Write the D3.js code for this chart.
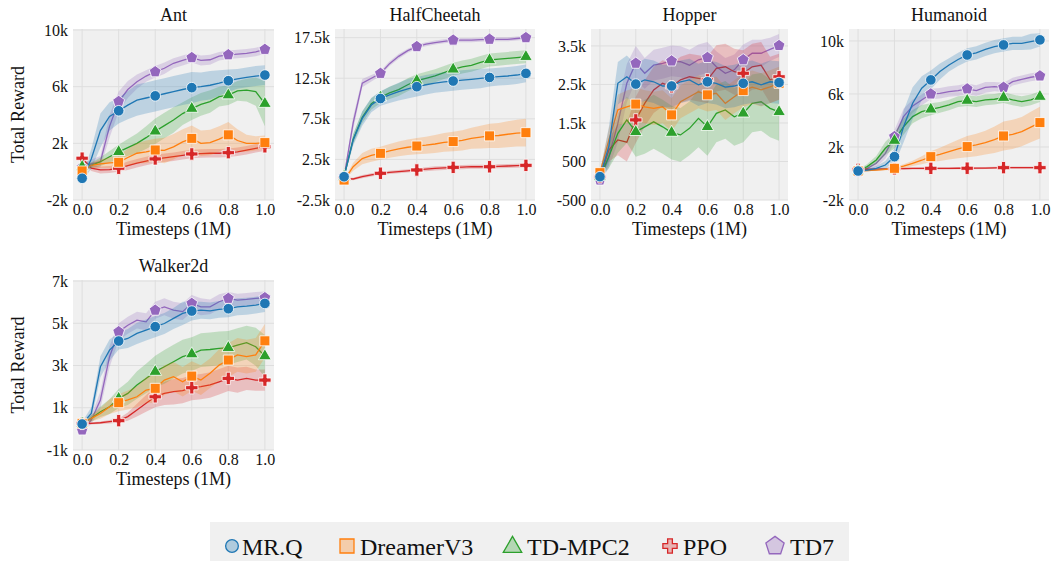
<!DOCTYPE html>
<html><head><meta charset="utf-8">
<script src="https://cdn.jsdelivr.net/npm/d3@7"></script>
<style>
body{margin:0;background:#fff}
svg{display:block}
text{font-family:"Liberation Serif","Times New Roman",serif;fill:#111}
</style>
</head><body><svg id="c" width="1052" height="561"></svg>
<script>
// ---------------- DATA ----------------
const methods = ["MR.Q","DreamerV3","TD-MPC2","PPO","TD7"];
const colors  = ["#1f77b4","#ff7f0e","#2ca02c","#d62728","#9467bd"];
const envNames = ["Ant","HalfCheetah","Hopper","Humanoid","Walker2d"];
const steps = [0,0.05,0.1,0.15,0.2,0.25,0.3,0.35,0.4,0.45,0.5,0.55,0.6,0.65,0.7,0.75,0.8,0.85,0.9,0.95,1.0];
const xTicks = [0,0.2,0.4,0.6,0.8,1.0];
const xTickLabels = ["0.0","0.2","0.4","0.6","0.8","1.0"];

const antTicks = [-2000,2000,6000,10000];
const antTickLabels = ["-2k","2k","6k","10k"];
const hcTicks = [-2500,2500,7500,12500,17500];
const hcTickLabels = ["-2.5k","2.5k","7.5k","12.5k","17.5k"];
const hopTicks = [-500,500,1500,2500,3500];
const hopTickLabels = ["-500","500","1.5k","2.5k","3.5k"];
const humTicks = [-2000,2000,6000,10000];
const humTickLabels = ["-2k","2k","6k","10k"];
const walTicks = [-1000,1000,3000,5000,7000];
const walTickLabels = ["-1k","1k","3k","5k","7k"];

// Ant
const antMRQ     = [-470,900,2900,3900,4300,4700,5050,5200,5350,5500,5650,5800,5930,6000,6100,6250,6420,6550,6660,6750,6820];
const antMRQsd   = [200,700,1200,1000,900,1000,1100,1100,1100,1100,1100,1100,1100,1000,1000,900,800,700,700,700,700];
const antDre     = [50,450,550,620,660,1000,1300,1400,1530,1500,1750,2100,2350,2000,2050,2300,2600,2200,2000,2000,2050];
const antDresd   = [100,200,300,400,500,600,700,800,800,900,900,900,900,900,900,900,900,800,600,500,500];
const antTDM     = [350,450,700,1050,1400,1700,2000,2400,2850,3250,3650,4100,4450,4750,4950,5300,5400,5700,5750,5650,4800];
const antTDMsd   = [100,200,300,400,500,600,700,800,900,900,900,800,800,800,800,700,700,700,800,1000,1600];
const antPPO     = [950,250,120,150,240,420,600,750,900,980,1060,1150,1250,1280,1300,1300,1340,1400,1520,1650,1760];
const antPPOsd   = [100,200,250,250,250,300,300,300,300,300,300,300,300,300,300,300,300,300,300,300,300];
const antTD7     = [300,550,700,3200,4950,5800,6350,6750,7050,7300,7650,7850,8050,7850,7900,8150,8250,8300,8350,8450,8630];
const antTD7sd   = [200,300,400,800,700,600,500,400,400,400,350,350,350,350,350,300,300,300,300,300,300];

// HalfCheetah
const hcMRQ      = [370,4900,7550,9200,10000,10450,10850,11200,11460,11700,11900,12050,12160,12280,12370,12480,12600,12700,12780,12900,13100];
const hcMRQsd    = [200,700,900,900,900,1000,1100,1200,1200,1200,1200,1200,1200,1200,1200,1200,1100,1100,1100,1100,1100];
const hcDre      = [-40,1600,2600,3000,3250,3550,3800,4000,4150,4250,4400,4600,4700,4850,5100,5250,5400,5450,5600,5750,5800];
const hcDresd    = [100,500,700,800,800,850,900,950,1000,1050,1100,1150,1200,1250,1300,1400,1500,1550,1600,1650,1700];
const hcTDM      = [400,5000,7700,9350,10150,10700,11100,11700,12200,12500,12800,13200,13600,13900,14100,14450,14750,14850,14950,15050,15150];
const hcTDMsd    = [200,600,700,700,700,750,800,800,800,800,800,800,800,800,800,800,800,800,800,800,800];
const hcPPO      = [170,90,370,600,790,900,1000,1100,1200,1300,1400,1450,1520,1550,1600,1600,1600,1650,1690,1730,1770];
const hcPPOsd    = [100,150,200,200,200,200,200,200,200,250,250,250,250,250,250,250,250,250,250,250,250];
const hcTD7      = [370,7000,11900,12500,13100,14300,15200,15900,16400,16700,16900,17050,17200,17200,17200,17250,17300,17300,17300,17400,17500];
const hcTD7sd    = [200,800,500,400,300,300,300,250,250,250,250,250,250,250,250,250,250,250,250,250,250];

// Hopper
const hopMRQ     = [106,900,2530,2700,2510,2620,2570,2460,2460,2570,2620,2490,2570,2530,2430,2460,2530,2570,2490,2570,2550];
const hopMRQsd   = [100,500,550,550,500,550,550,550,550,550,550,550,550,550,550,550,550,550,550,550,550];
const hopDre     = [210,1060,1840,1920,1990,1920,1880,1920,1710,2050,2180,2310,2230,2270,2010,2180,2340,2430,2360,2440,2530];
const hopDresd   = [50,300,400,420,430,430,430,430,430,430,430,430,430,430,430,430,430,430,430,430,430];
const hopTDM     = [100,630,1230,1580,1270,1400,1530,1400,1250,1190,1360,1620,1400,1750,1840,1660,1750,2010,2050,1880,1790];
const hopTDMsd   = [50,300,500,600,650,700,700,700,700,700,700,750,750,750,750,750,750,750,750,750,750];
const hopPPO     = [100,800,1060,1000,1580,2010,2360,2530,2440,2620,2700,2660,2620,2920,2960,2830,2790,2960,3000,2620,2700];
const hopPPOsd   = [50,300,400,500,600,600,600,600,600,600,600,600,600,600,600,600,600,600,600,600,600];
const hopTD7     = [20,630,1490,2530,3050,2790,3000,3050,3110,3090,3000,3140,3200,2960,2790,2880,3140,3310,3310,3410,3510];
const hopTD7sd   = [50,300,500,500,450,400,400,400,400,400,400,400,400,400,400,400,400,350,350,300,300];

// Humanoid
const humMRQ     = [190,260,390,640,1270,3530,5300,6430,7060,7690,8190,8600,8940,9100,9370,9570,9700,9820,9820,9950,10080];
const humMRQsd   = [100,100,150,300,600,1200,1200,900,700,600,500,500,500,500,500,500,500,500,500,600,500];
const humDre     = [190,220,260,320,390,550,770,1000,1270,1450,1650,1850,2030,2150,2330,2550,2830,2950,3160,3500,3840];
const humDresd   = [50,50,60,80,100,150,200,300,400,500,600,700,800,850,900,1000,1100,1100,1100,1150,1200];
const humTDM     = [190,520,1020,1900,2480,3530,4290,4670,4840,4990,5170,5420,5500,5420,5550,5600,5720,5550,5420,5550,5800];
const humTDMsd   = [100,200,300,500,600,600,500,500,450,400,400,400,400,400,400,400,400,400,400,400,400];
const humPPO     = [310,320,330,340,360,370,380,385,390,390,390,395,395,400,410,420,440,440,440,440,440];
const humPPOsd   = [80,80,80,80,80,80,80,80,80,80,80,80,80,80,80,80,80,80,80,80,80];
const humTD7     = [140,390,770,1520,2780,4290,5090,5550,6000,6050,6180,6250,6380,6250,6500,6550,6500,6930,7100,7260,7360];
const humTD7sd   = [100,150,300,400,500,600,500,400,400,400,400,400,400,400,400,350,350,300,300,300,300];

// Walker2d
const walMRQ     = [230,730,2940,3730,4160,4280,4520,4680,4840,4990,5230,5470,5580,5620,5590,5660,5690,5780,5810,5860,5940];
const walMRQsd   = [100,300,500,500,400,450,500,500,500,500,500,550,450,400,400,400,400,400,400,400,400];
const walDre     = [260,500,730,1050,1240,1370,1520,1840,1920,2310,2470,2230,2500,2310,2630,3020,3260,3500,3420,3500,4170];
const walDresd   = [50,150,250,350,400,450,500,600,700,700,700,700,700,700,700,750,800,800,800,800,800];
const walTDM     = [260,500,810,1050,1440,1680,2080,2390,2710,2940,3180,3420,3540,3730,3760,3810,3840,3970,4080,3890,3450];
const walTDMsd   = [50,150,250,350,450,550,650,700,750,800,800,800,800,800,800,800,800,800,800,900,1000];
const walPPO     = [260,260,290,340,390,580,890,1210,1520,1680,1760,1810,1950,2000,2080,2230,2390,2310,2390,2310,2310];
const walPPOsd   = [50,50,60,80,100,200,300,400,500,550,600,600,600,600,600,600,600,600,550,500,500];
const walTD7     = [-50,420,1370,3420,4600,4910,5150,5070,5620,5780,5620,5550,5940,5780,5780,6020,6180,6100,6130,6180,6210];
const walTD7sd   = [50,200,400,500,400,400,400,400,400,400,400,400,400,400,350,350,300,300,300,300,300];

// ---------------- LAYOUT ----------------
const panels = [
  {title:envNames[0], mean:[antMRQ,antDre,antTDM,antPPO,antTD7], sd:[antMRQsd,antDresd,antTDMsd,antPPOsd,antTD7sd],
   ticks:antTicks, labels:antTickLabels, ydom:[-2000,10070], box:[73,29,274,200], ylab:true},
  {title:envNames[1], mean:[hcMRQ,hcDre,hcTDM,hcPPO,hcTD7], sd:[hcMRQsd,hcDresd,hcTDMsd,hcPPOsd,hcTD7sd],
   ticks:hcTicks, labels:hcTickLabels, ydom:[-2500,18570], box:[335,29,535,200], ylab:false},
  {title:envNames[2], mean:[hopMRQ,hopDre,hopTDM,hopPPO,hopTD7], sd:[hopMRQsd,hopDresd,hopTDMsd,hopPPOsd,hopTD7sd],
   ticks:hopTicks, labels:hopTickLabels, ydom:[-500,3940], box:[591,29,788,200], ylab:false},
  {title:envNames[3], mean:[humMRQ,humDre,humTDM,humPPO,humTD7], sd:[humMRQsd,humDresd,humTDMsd,humPPOsd,humTD7sd],
   ticks:humTicks, labels:humTickLabels, ydom:[-2000,10900], box:[849,29,1049,200], ylab:false},
  {title:envNames[4], mean:[walMRQ,walDre,walTDM,walPPO,walTD7], sd:[walMRQsd,walDresd,walTDMsd,walPPOsd,walTD7sd],
   ticks:walTicks, labels:walTickLabels, ydom:[-1000,7050], box:[73,280,274,450], ylab:true}
];

const svg = d3.select("#c");
const BG = "#f0f0f0", GRID = "#dedede";
const FONT = "'Liberation Serif', 'Times New Roman', serif";

function pentagonPath(r){
  const pts = d3.range(5).map(k=>{const a=-Math.PI/2+k*2*Math.PI/5;return [r*Math.cos(a),r*Math.sin(a)];});
  return "M"+pts.map(p=>p.join(",")).join("L")+"Z";
}
function markerPath(i, s){
  switch(i){
    case 0: return d3.symbol(d3.symbolCircle, 88*s*s)();
    case 1: return d3.symbol(d3.symbolSquare, 100*s*s)();
    case 2: return d3.symbol(d3.symbolTriangle, 70*s*s)();
    case 3: return d3.symbol(d3.symbolCross, 85*s*s)();
    case 4: return pentagonPath(6.2*s);
  }
}

const drawOrder = [4,3,2,1,0];

panels.forEach((p,pi)=>{
  const [x0,y0,x1,y1] = p.box;
  const x = d3.scaleLinear().domain([-0.05,1.05]).range([x0,x1]);
  const y = d3.scaleLinear().domain(p.ydom).range([y1,y0]);
  const g = svg.append("g");
  g.append("rect").attr("x",x0).attr("y",y0).attr("width",x1-x0).attr("height",y1-y0).attr("fill",BG);
  g.selectAll(".gx").data(xTicks).enter().append("line")
    .attr("x1",d=>x(d)).attr("x2",d=>x(d)).attr("y1",y0).attr("y2",y1)
    .attr("stroke",GRID).attr("stroke-width",1);
  g.selectAll(".gy").data(p.ticks).enter().append("line")
    .attr("x1",x0).attr("x2",x1).attr("y1",d=>y(d)).attr("y2",d=>y(d))
    .attr("stroke",GRID).attr("stroke-width",1);

  const cid = "clip"+pi;
  svg.append("clipPath").attr("id",cid).append("rect")
    .attr("x",x0).attr("y",y0).attr("width",x1-x0).attr("height",y1-y0);
  const cg = g.append("g").attr("clip-path",`url(#${cid})`);

  drawOrder.forEach(i=>{
    const pts = steps.map((s,k)=>({x:s, m:p.mean[i][k], sd:p.sd[i][k], k}));
    cg.append("path").datum(pts)
      .attr("d", d3.area().x(d=>x(d.x)).y0(d=>y(d.m-d.sd)).y1(d=>y(d.m+d.sd)))
      .attr("fill",colors[i]).attr("fill-opacity",0.24).attr("stroke","none");
    cg.append("path").datum(pts)
      .attr("d", d3.line().x(d=>x(d.x)).y(d=>y(d.m)))
      .attr("fill","none").attr("stroke",colors[i]).attr("stroke-width",1.3);
    g.selectAll(null).data(pts.filter(d=>d.k%4===0)).enter().append("path")
      .attr("d", markerPath(i,1))
      .attr("transform", d=>`translate(${x(d.x)},${y(d.m)})`)
      .attr("fill",colors[i]).attr("stroke","#fff").attr("stroke-width",0.8);
  });

  const ay = g.append("g").attr("transform",`translate(${x0},0)`)
    .call(d3.axisLeft(y).tickValues(p.ticks).tickFormat((d,i)=>p.labels[i]).tickSize(0).tickPadding(5));
  const ax = g.append("g").attr("transform",`translate(0,${y1})`)
    .call(d3.axisBottom(x).tickValues(xTicks).tickFormat((d,i)=>xTickLabels[i]).tickSize(0).tickPadding(4));
  [ay,ax].forEach(a=>{
    a.attr("font-family",FONT);
    a.select(".domain").remove();
    a.selectAll("text").style("font-family",FONT).attr("font-size",16).attr("fill","#111");
  });

  g.append("text").attr("x",(x0+x1)/2).attr("y",y0-8).attr("text-anchor","middle")
    .attr("font-size",18).text(p.title);
  g.append("text").attr("x",(x0+x1)/2).attr("y",y1+34.5).attr("text-anchor","middle")
    .attr("font-size",18).text("Timesteps (1M)");
  if(p.ylab){
    const cy=(y0+y1)/2;
    g.append("text").attr("transform",`translate(24,${cy}) rotate(-90)`).attr("text-anchor","middle")
      .attr("font-size",18).text("Total Reward");
  }
});

// legend
const lg = svg.append("g");
lg.append("rect").attr("x",210).attr("y",522).attr("width",639).attr("height",40).attr("fill",BG);
const legMarkX = [232,347,512.5,670,775];
const legTextX = [242,360,527,683,790];
const legScale = [1.2,1.4,1.45,1.15,1.55];
methods.forEach((m,i)=>{
  lg.append("path").attr("d",markerPath(i,legScale[i]))
    .attr("transform",`translate(${legMarkX[i]},${i===2?547:546})`)
    .attr("fill",d3.color(colors[i]).copy({opacity:0.3})).attr("stroke",colors[i]).attr("stroke-width",1.3);
  lg.append("text").attr("x",legTextX[i]).attr("y",555).attr("font-size",24).style("font-family",FONT).text(m);
});
</script>
</body></html>
